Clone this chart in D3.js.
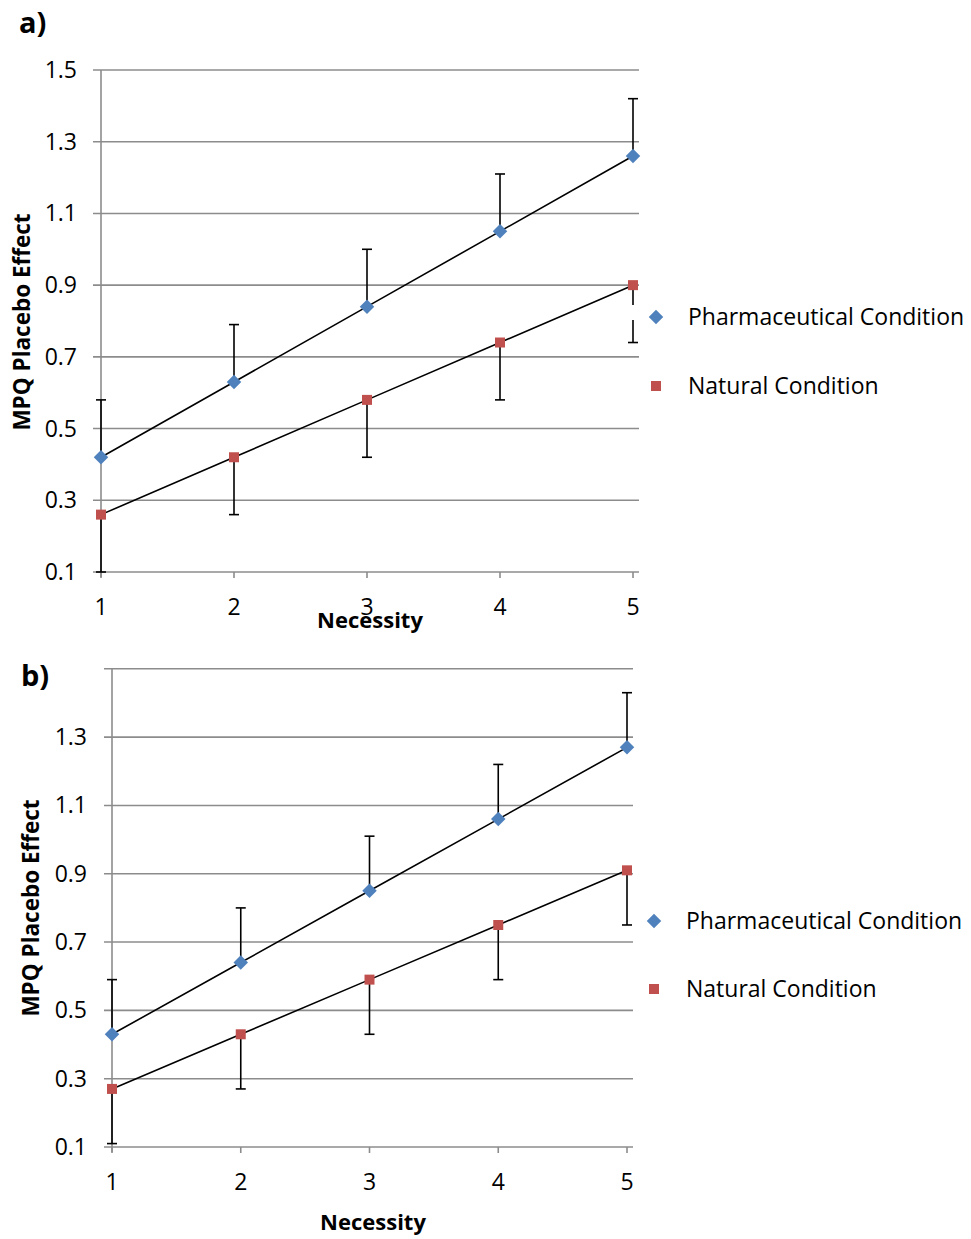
<!DOCTYPE html>
<html><head><meta charset="utf-8">
<script src="https://cdn.jsdelivr.net/npm/d3@7"></script>
<style>body{margin:0;background:#fff}</style>
</head><body>
<svg id="c" width="971" height="1239"></svg>
<script>
const necessity = [1, 2, 3, 4, 5];
const yTicksA = [0.1, 0.3, 0.5, 0.7, 0.9, 1.1, 1.3, 1.5];
const yTicksB = [0.1, 0.3, 0.5, 0.7, 0.9, 1.1, 1.3];
const pharmaA = [0.42, 0.63, 0.84, 1.05, 1.26];
const naturalA = [0.26, 0.42, 0.58, 0.74, 0.90];
const pharmaB = [0.43, 0.64, 0.85, 1.06, 1.27];
const naturalB = [0.27, 0.43, 0.59, 0.75, 0.91];
const errorBar = 0.16;
const seriesNames = ["Pharmaceutical Condition", "Natural Condition"];
const colors = ["#4f81bd", "#c0504d"];
const font = "'Open Sans', 'Noto Sans', sans-serif";

const svg = d3.select("#c");

function panel(cfg) {
  const g = svg.append("g");
  const x = d3.scaleLinear().domain([1, 5]).range([cfg.x0, cfg.x1]);
  const y = d3.scaleLinear().domain([0.1, 1.5]).range([cfg.yb, cfg.yt]);
  const gridVals = [0.1, 0.3, 0.5, 0.7, 0.9, 1.1, 1.3, 1.5];
  g.selectAll(".grid").data(gridVals).enter().append("line")
    .attr("x1", cfg.x0 - 8).attr("x2", cfg.gx1)
    .attr("y1", d => y(d)).attr("y2", d => y(d))
    .attr("stroke", "#8c8c8c").attr("stroke-width", 1.6);
  g.append("line").attr("x1", cfg.x0).attr("x2", cfg.x0)
    .attr("y1", y(1.5)).attr("y2", y(0.1) + 5)
    .attr("stroke", "#8c8c8c").attr("stroke-width", 1.6);
  g.selectAll(".xt").data(necessity).enter().append("line")
    .attr("x1", d => x(d)).attr("x2", d => x(d))
    .attr("y1", y(0.1)).attr("y2", y(0.1) + 6)
    .attr("stroke", "#8c8c8c").attr("stroke-width", 1.6);
  g.selectAll(".yl").data(cfg.yTicks).enter().append("text")
    .attr("x", cfg.ylx).attr("y", d => y(d)).attr("dy", "0.35em")
    .attr("text-anchor", "end").attr("font-family", font).attr("font-size", 23)
    .attr("fill", "#000").text(d => d3.format(".1f")(d));
  g.selectAll(".xl").data(necessity).enter().append("text")
    .attr("x", d => x(d)).attr("y", cfg.xly).attr("dy", "0.35em")
    .attr("text-anchor", "middle").attr("font-family", font).attr("font-size", 23)
    .attr("fill", "#000").text(d => d);
  g.append("text").attr("x", cfg.xtx).attr("y", cfg.xty).attr("dy", "0.35em")
    .attr("text-anchor", "middle").attr("font-family", font).attr("font-size", 22)
    .attr("font-weight", "bold").text("Necessity");
  g.append("text").attr("transform", `translate(${cfg.ytx},${cfg.yty}) rotate(-90)`)
    .attr("dy", "0.35em").attr("text-anchor", "middle").attr("font-family", font)
    .attr("font-size", 22.5).attr("font-weight", "bold").text("MPQ Placebo Effect");
  g.append("text").attr("x", cfg.lx).attr("y", cfg.ly)
    .attr("font-family", font).attr("font-size", 29).attr("font-weight", "bold").text(cfg.label);

  const series = [cfg.pharma, cfg.natural];
  const cap = 5;
  series.forEach((vals, si) => {
    const dir = si === 0 ? 1 : -1;
    vals.forEach((v, i) => {
      const e = v + dir * errorBar;
      g.append("line").attr("x1", x(necessity[i])).attr("x2", x(necessity[i]))
        .attr("y1", y(v)).attr("y2", y(e)).attr("stroke", "#000").attr("stroke-width", 1.6);
      g.append("line").attr("x1", x(necessity[i]) - cap).attr("x2", x(necessity[i]) + cap)
        .attr("y1", y(e)).attr("y2", y(e)).attr("stroke", "#000").attr("stroke-width", 1.6);
    });
  });
  if (cfg.legendBox) {
    g.append("rect").attr("x", cfg.legendBox[0]).attr("y", cfg.legendBox[1])
      .attr("width", cfg.legendBox[2]).attr("height", cfg.legendBox[3]).attr("fill", "#fff");
  }
  const line = d3.line().x((d, i) => x(necessity[i])).y(d => y(d));
  series.forEach(vals => {
    g.append("path").attr("d", line(vals)).attr("fill", "none")
      .attr("stroke", "#000").attr("stroke-width", 1.6);
  });
  const diamond = d3.symbol().type(d3.symbolSquare).size(105)();
  const square = d3.symbol().type(d3.symbolSquare).size(100)();
  series.forEach((vals, si) => {
    g.selectAll(null).data(vals).enter().append("path")
      .attr("d", si === 0 ? diamond : square)
      .attr("transform", (d, i) => `translate(${x(necessity[i])},${y(d)})` + (si === 0 ? " rotate(45)" : ""))
      .attr("fill", colors[si]);
  });
  seriesNames.forEach((n, si) => {
    const ly = cfg.legY + si * cfg.legGap;
    g.append("path")
      .attr("d", si === 0 ? diamond : square)
      .attr("transform", `translate(${cfg.legX},${ly})` + (si === 0 ? " rotate(45)" : ""))
      .attr("fill", colors[si]);
    g.append("text").attr("x", cfg.legX + 32).attr("y", ly).attr("dy", "0.35em")
      .attr("font-family", font).attr("font-size", 23).attr("fill", "#000").text(n);
  });
}

panel({x0: 101, x1: 633, gx1: 639, yb: 572, yt: 70, yTicks: yTicksA,
  pharma: pharmaA, natural: naturalA, ylx: 77, xly: 607,
  xtx: 370, xty: 620, ytx: 22, yty: 322, lx: 19, ly: 33, label: "a)",
  legX: 656, legY: 317, legGap: 69, legendBox: [630, 305, 10, 15]});
panel({x0: 112, x1: 627, gx1: 633, yb: 1147, yt: 668.8, yTicks: yTicksB,
  pharma: pharmaB, natural: naturalB, ylx: 87, xly: 1182,
  xtx: 373, xty: 1222, ytx: 31, yty: 908, lx: 21, ly: 686, label: "b)",
  legX: 654, legY: 921, legGap: 68});
</script>
</body></html>
